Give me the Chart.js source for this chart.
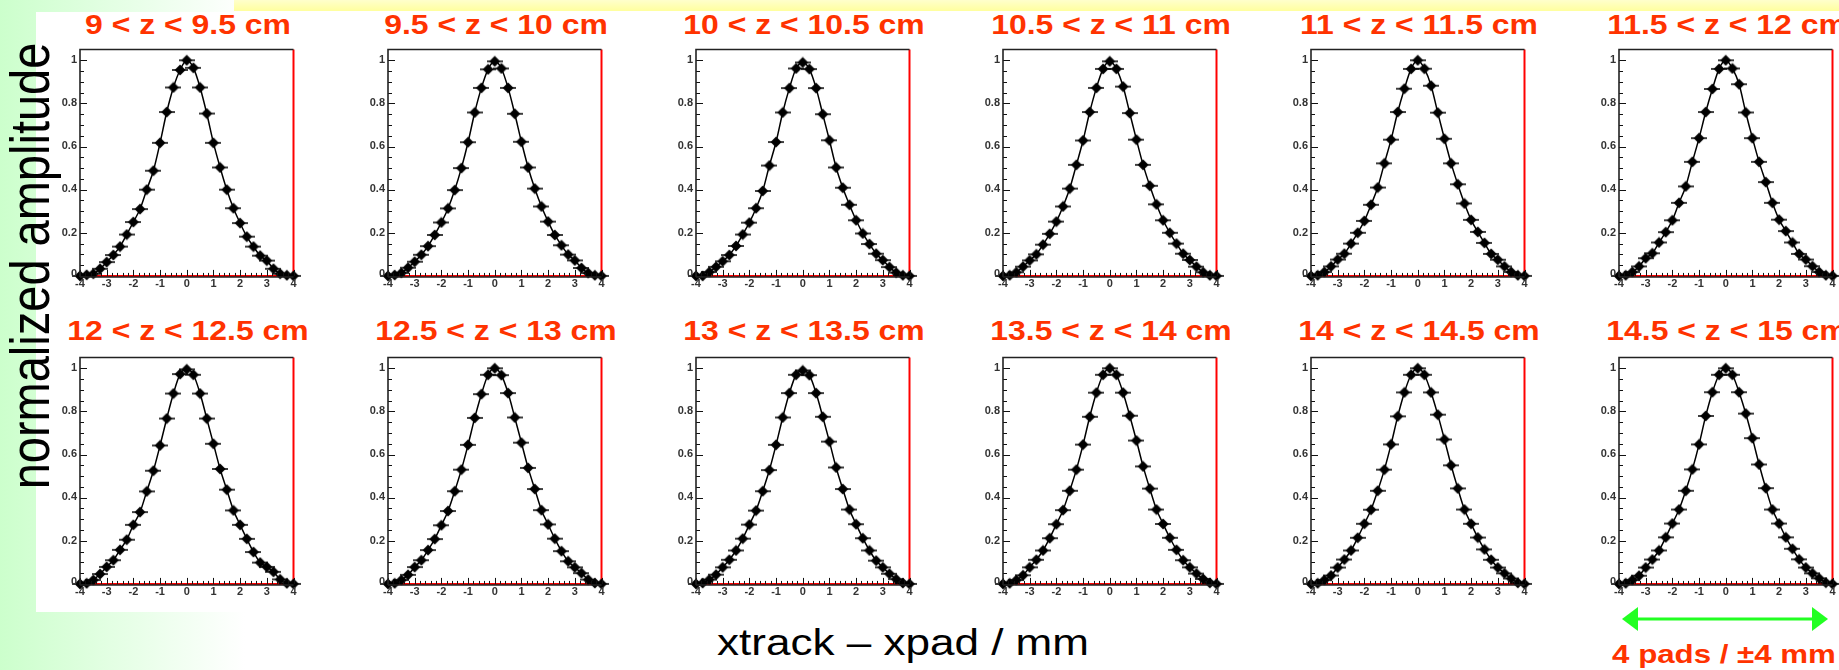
<!DOCTYPE html>
<html>
<head>
<meta charset="utf-8">
<script src="https://cdn.jsdelivr.net/npm/chart.js@4"></script>
<style>
  html, body { margin: 0; padding: 0; }
  body {
    width: 1839px; height: 670px; overflow: hidden; position: relative;
    background: linear-gradient(to right, #ccffcc 0px, #ffffff 245px);
    font-family: "Liberation Sans", Arial, sans-serif;
  }
  #yellow { position: absolute; left: 234px; top: 0; width: 1605px; height: 11px;
            background: linear-gradient(#ffffcc, #ffff9e); }
  #white { position: absolute; left: 36px; top: 12px; width: 1803px; height: 600px; background: #fff; }
  canvas { position: absolute; }
  .title { position: absolute; font-weight: bold; font-size: 28px; line-height: 28px; color: #ff3300;
           white-space: nowrap; transform: translateX(-50%) scaleX(1.14); }
  #xlabel { position: absolute; left: 903px; top: 624px; font-size: 37px; line-height: 37px; color: #000;
            white-space: nowrap; transform: translateX(-50%) scaleX(1.19); }
  #ylabel { position: absolute; left: 30px; top: 266px; font-size: 47px; line-height: 47px; color: #000;
            white-space: nowrap; transform-origin: 0 0;
            transform: scale(1.18, 1) rotate(-90deg) translate(-50%, -50%); }
  #pads { position: absolute; left: 1724px; top: 642px; font-weight: bold; font-size: 25px; line-height: 25px;
          color: #ff3300; white-space: nowrap; transform: translateX(-50%) scaleX(1.25); }
  #arrow { position: absolute; left: 1615px; top: 603px; }
</style>
</head>
<body>
<div id="yellow"></div>
<div id="white"></div>
<div id="ylabel">normalized amplitude</div>
<div id="xlabel">xtrack – xpad / mm</div>
<div id="pads">4 pads / ±4 mm</div>
<svg id="arrow" width="222" height="32">
  <line x1="20" y1="16" x2="200" y2="16" stroke="#22ff22" stroke-width="3"/>
  <polygon points="7,16 23,4 23,28" fill="#22ff22"/>
  <polygon points="213,16 197,4 197,28" fill="#22ff22"/>
</svg>
<script>
// x position of every bin (mm)
const xPos = [-4, -3.75, -3.5, -3.25, -3, -2.75, -2.5, -2.25, -2, -1.75, -1.5, -1.25, -1, -0.75, -0.5, -0.25,
              0, 0.25, 0.5, 0.75, 1, 1.25, 1.5, 1.75, 2, 2.25, 2.5, 2.75, 3, 3.25, 3.5, 3.75, 4];

const ranges = ['9 < z < 9.5 cm', '9.5 < z < 10 cm', '10 < z < 10.5 cm', '10.5 < z < 11 cm',
                '11 < z < 11.5 cm', '11.5 < z < 12 cm', '12 < z < 12.5 cm', '12.5 < z < 13 cm',
                '13 < z < 13.5 cm', '13.5 < z < 14 cm', '14 < z < 14.5 cm', '14.5 < z < 15 cm'];

// normalized amplitude per panel
const amp1 = [0, 0.005, 0.010, 0.033, 0.064, 0.097, 0.136, 0.192, 0.250, 0.310, 0.400, 0.488, 0.617, 0.760, 0.874, 0.955, 1.000, 0.965, 0.874, 0.753, 0.617, 0.503, 0.400, 0.314, 0.245, 0.182, 0.136, 0.094, 0.071, 0.033, 0.010, 0.003, 0];
const amp2 = [0, 0.004, 0.014, 0.038, 0.066, 0.098, 0.138, 0.190, 0.248, 0.313, 0.398, 0.500, 0.620, 0.758, 0.872, 0.958, 0.995, 0.962, 0.872, 0.752, 0.622, 0.503, 0.405, 0.322, 0.252, 0.190, 0.142, 0.099, 0.072, 0.037, 0.013, 0.003, 0];
const amp3 = [0, 0.000, 0.018, 0.042, 0.068, 0.097, 0.139, 0.192, 0.247, 0.314, 0.394, 0.512, 0.621, 0.758, 0.871, 0.962, 0.990, 0.959, 0.871, 0.750, 0.629, 0.503, 0.409, 0.330, 0.258, 0.197, 0.148, 0.103, 0.073, 0.041, 0.015, 0.003, 0];
const amp4 = [0, 0.003, 0.017, 0.043, 0.072, 0.100, 0.145, 0.195, 0.252, 0.322, 0.405, 0.515, 0.628, 0.760, 0.872, 0.960, 0.995, 0.960, 0.878, 0.755, 0.632, 0.515, 0.418, 0.332, 0.258, 0.200, 0.150, 0.103, 0.074, 0.043, 0.017, 0.003, 0];
const amp5 = [0, 0.003, 0.018, 0.044, 0.076, 0.103, 0.150, 0.200, 0.255, 0.330, 0.410, 0.522, 0.632, 0.760, 0.868, 0.960, 1.000, 0.961, 0.882, 0.757, 0.636, 0.522, 0.425, 0.336, 0.260, 0.204, 0.153, 0.102, 0.075, 0.044, 0.018, 0.003, 0];
const amp6 = [0, 0.003, 0.018, 0.044, 0.082, 0.105, 0.155, 0.203, 0.258, 0.339, 0.415, 0.529, 0.639, 0.760, 0.867, 0.960, 1.000, 0.962, 0.889, 0.758, 0.639, 0.529, 0.435, 0.339, 0.261, 0.208, 0.155, 0.102, 0.076, 0.045, 0.018, 0.003, 0];
const amp7 = [0, 0.003, 0.018, 0.046, 0.079, 0.110, 0.158, 0.205, 0.274, 0.333, 0.429, 0.525, 0.642, 0.767, 0.883, 0.973, 0.995, 0.970, 0.883, 0.767, 0.650, 0.533, 0.437, 0.341, 0.274, 0.209, 0.148, 0.099, 0.079, 0.056, 0.021, 0.003, 0];
const amp8 = [0, 0.003, 0.018, 0.042, 0.078, 0.110, 0.157, 0.208, 0.272, 0.338, 0.430, 0.530, 0.645, 0.770, 0.880, 0.970, 1.000, 0.968, 0.885, 0.772, 0.655, 0.538, 0.440, 0.342, 0.276, 0.210, 0.152, 0.105, 0.077, 0.050, 0.020, 0.004, 0];
const amp9 = [0, 0.004, 0.020, 0.043, 0.077, 0.112, 0.155, 0.210, 0.275, 0.340, 0.430, 0.528, 0.645, 0.772, 0.885, 0.970, 0.990, 0.968, 0.885, 0.775, 0.660, 0.540, 0.440, 0.345, 0.277, 0.212, 0.155, 0.108, 0.077, 0.047, 0.022, 0.004, 0];
const amp10 = [0, 0.003, 0.018, 0.040, 0.077, 0.112, 0.155, 0.212, 0.277, 0.342, 0.432, 0.530, 0.646, 0.775, 0.887, 0.970, 1.000, 0.970, 0.887, 0.780, 0.665, 0.545, 0.442, 0.345, 0.278, 0.214, 0.158, 0.110, 0.077, 0.048, 0.023, 0.005, 0];
const amp11 = [0, 0.003, 0.018, 0.039, 0.076, 0.113, 0.155, 0.214, 0.279, 0.344, 0.432, 0.530, 0.647, 0.777, 0.888, 0.970, 1.000, 0.970, 0.888, 0.785, 0.670, 0.550, 0.443, 0.345, 0.279, 0.215, 0.160, 0.112, 0.076, 0.049, 0.025, 0.005, 0];
const amp12 = [0, 0.003, 0.018, 0.038, 0.076, 0.113, 0.155, 0.216, 0.280, 0.345, 0.432, 0.531, 0.647, 0.779, 0.889, 0.970, 1.000, 0.970, 0.889, 0.790, 0.676, 0.554, 0.444, 0.345, 0.280, 0.216, 0.163, 0.114, 0.076, 0.049, 0.026, 0.006, 0];
const allAmps = [amp1, amp2, amp3, amp4, amp5, amp6, amp7, amp8, amp9, amp10, amp11, amp12];

// red empty histogram outline (zero level + last edge)
const zeroX = [-4, 4, 4];
const zeroY = [0, 0, 1.05];

const xTicks = [-4, -3, -2, -1, 0, 1, 2, 3, 4];
const yTicks = [0, 0.2, 0.4, 0.6, 0.8, 1];
const yTickText = ['0', '0.2', '0.4', '0.6', '0.8', '1'];

// marker: filled diamond with horizontal error bar
function makeMarker() {
    const c = document.createElement('canvas');
    c.width = 16; c.height = 12;
    const g = c.getContext('2d');
    g.strokeStyle = '#000';
    g.fillStyle = '#000';
    g.lineWidth = 1.5;
    g.beginPath(); g.moveTo(0, 6); g.lineTo(16, 6); g.stroke();
    g.beginPath();
    g.moveTo(8, 0.5); g.lineTo(13.5, 6); g.lineTo(8, 11.5); g.lineTo(2.5, 6);
    g.closePath(); g.fill();
    return c;
}
const marker = makeMarker();

// ROOT-like frame with inside ticks
const rootAxes = {
    id: 'rootAxes',
    afterDatasetsDraw(chart) {
        const { ctx, chartArea: a, scales: { x, y } } = chart;
        ctx.save();
        ctx.strokeStyle = '#111';
        ctx.lineWidth = 1;
        ctx.beginPath();
        for (let i = 0; i <= 20; i++) {
            const py = Math.round(y.getPixelForValue(i * 0.05)) + 0.5;
            const len = i % 4 === 0 ? 7 : 4;
            ctx.moveTo(a.left, py); ctx.lineTo(a.left + len, py);
        }
        for (let i = 0; i <= 40; i++) {
            const px = Math.round(x.getPixelForValue(-4 + i * 0.2)) + 0.5;
            const len = i % 5 === 0 ? 6 : 3;
            const y0 = y.getPixelForValue(0);
            ctx.moveTo(px, y0); ctx.lineTo(px, y0 - len);
        }
        ctx.stroke();

        ctx.lineWidth = 1.6;
        ctx.strokeStyle = '#222';
        ctx.beginPath();
        ctx.moveTo(a.left, a.bottom); ctx.lineTo(a.left, a.top); ctx.lineTo(a.right, a.top);
        ctx.moveTo(a.left, a.bottom); ctx.lineTo(a.right, a.bottom);
        ctx.stroke();

        ctx.fillStyle = '#333';
        ctx.font = 'bold 10px "Liberation Sans", Arial, sans-serif';
        ctx.textAlign = 'right';
        ctx.textBaseline = 'middle';
        yTicks.forEach((v, i) => {
            ctx.save();
            ctx.translate(a.left - 3, y.getPixelForValue(v) - (v === 0 ? 2 : 0));
            ctx.scale(1.1, 1);
            ctx.fillText(yTickText[i], 0, 0);
            ctx.restore();
        });
        ctx.textAlign = 'center';
        ctx.textBaseline = 'top';
        xTicks.forEach(v => {
            ctx.save();
            ctx.translate(x.getPixelForValue(v), a.bottom + 2);
            ctx.scale(1.1, 1);
            ctx.fillText(String(v), 0, 0);
            ctx.restore();
        });
        ctx.restore();
    }
};

const colLeft = [80, 388, 696, 1003, 1311, 1619];
const rowTop = [46, 354];
const titleTop = [11, 317];
const plotW = 215, plotH = 231;
const padL = 34, padR = 6, padT = 4, padB = 16;

allAmps.forEach((amp, k) => {
    const col = k % 6, row = Math.floor(k / 6);
    const canvas = document.createElement('canvas');
    canvas.width = plotW + padL + padR;
    canvas.height = plotH + padT + padB;
    canvas.style.left = (colLeft[col] - padL) + 'px';
    canvas.style.top = (rowTop[row] - padT) + 'px';
    document.body.appendChild(canvas);

    const t = document.createElement('div');
    t.className = 'title';
    t.textContent = ranges[k];
    t.style.left = (colLeft[col] + plotW / 2) + 'px';
    t.style.top = titleTop[row] + 'px';
    document.body.appendChild(t);

    new Chart(canvas.getContext('2d'), {
        type: 'line',
        data: {
            datasets: [
                {
                    data: xPos.map((v, i) => ({ x: v, y: amp[i] })),
                    borderColor: '#000',
                    borderWidth: 1.5,
                    cubicInterpolationMode: 'monotone',
                    pointStyle: marker,
                    pointRadius: 6,
                    clip: 8,
                    order: 1
                },
                {
                    data: zeroX.map((v, i) => ({ x: v, y: zeroY[i] })),
                    borderColor: '#ff0000',
                    borderWidth: 2,
                    pointRadius: 0,
                    tension: 0,
                    clip: 3,
                    order: 2
                }
            ]
        },
        options: {
            responsive: false,
            animation: false,
            events: [],
            layout: { padding: { left: padL, right: padR, top: padT, bottom: padB } },
            plugins: { legend: { display: false }, tooltip: { enabled: false } },
            scales: {
                x: { type: 'linear', min: -4, max: 4, display: false },
                y: { type: 'linear', min: -0.005, max: 1.05, display: false }
            }
        },
        plugins: [rootAxes]
    });
});
</script>
</body>
</html>
